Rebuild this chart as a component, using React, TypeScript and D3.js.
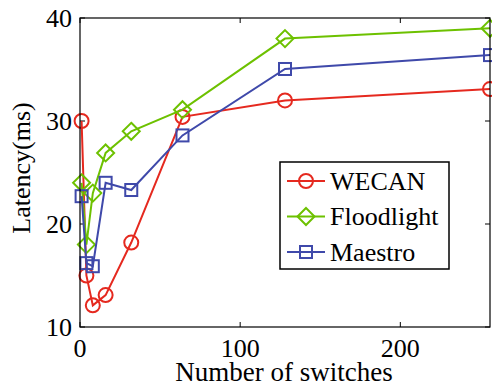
import React from "react";
import * as d3 from "d3";

// number of switches (x) and latency per controller (ms)
const switches = [1, 4, 8, 16, 32, 64, 128, 256];
const wecan = [30, 15, 12.1, 13.1, 18.2, 30.4, 32, 33.1];
const floodlight = [24, 18, 23, 26.9, 29, 31.1, 38, 39];
const maestro = [22.7, 16.2, 15.9, 24, 23.3, 28.6, 35.05, 36.4];

const seriesNames = ["WECAN", "Floodlight", "Maestro"];
const xTicks = [0, 100, 200];
const yTicks = [10, 20, 30, 40];

const colors = ["#e5291f", "#6dc100", "#3f49aa"];
const markers = ["circle", "diamond", "square"];

const width = 492;
const height = 389;
const font = "Liberation Serif";

const left = 80, right = 490, top = 18, bottom = 327;
const x = d3.scaleLinear().domain([0, 256]).range([left, right]);
const y = d3.scaleLinear().domain([10, 40]).range([bottom, top]);
const line = d3.line<number>().x((_, i) => x(switches[i])).y((d) => y(d));

function Marker({ type, cx, cy, color }: { type: string; cx: number; cy: number; color: string }) {
  const common = { fill: "none", stroke: color, strokeWidth: 2 };
  if (type === "circle") return <circle cx={cx} cy={cy} r={7} {...common} />;
  if (type === "diamond") {
    const r = 8.5;
    return <path d={`M${cx},${cy - r}L${cx + r},${cy}L${cx},${cy + r}L${cx - r},${cy}Z`} {...common} />;
  }
  const s = 6;
  return <rect x={cx - s} y={cy - s} width={2 * s} height={2 * s} {...common} />;
}

export default function App() {
  const all = [wecan, floodlight, maestro];
  const tickLen = 5;

  return (
    <svg width={width} height={height} style={{ position: "absolute", left: 0, top: 0 }}>
      {/* ticks, inside on all four sides */}
      {xTicks.map((t) => (
        <g key={"x" + t}>
          <line x1={x(t)} x2={x(t)} y1={bottom} y2={bottom - tickLen} stroke="#000" />
          <line x1={x(t)} x2={x(t)} y1={top} y2={top + tickLen} stroke="#000" />
          <text x={x(t)} y={357} textAnchor="middle" fontFamily={font} fontSize={26}>{t}</text>
        </g>
      ))}
      {yTicks.map((t) => (
        <g key={"y" + t}>
          <line x1={left} x2={left + tickLen} y1={y(t)} y2={y(t)} stroke="#000" />
          <line x1={right} x2={right - tickLen} y1={y(t)} y2={y(t)} stroke="#000" />
          <text x={72} y={y(t) + 9} textAnchor="end" fontFamily={font} fontSize={26}>{t}</text>
        </g>
      ))}

      {all.map((vals, k) => (
        <g key={seriesNames[k]}>
          <path d={line(vals) || ""} fill="none" stroke={colors[k]} strokeWidth={2} />
          {vals.map((v, i) => (
            <Marker key={i} type={markers[k]} cx={x(switches[i])} cy={y(v)} color={colors[k]} />
          ))}
        </g>
      ))}

      <rect x={left} y={top} width={right - left} height={bottom - top} fill="none" stroke="#000" strokeWidth={1.2} />

      {/* legend */}
      <rect x={280} y={162} width={169} height={107} fill="#fff" stroke="#000" strokeWidth={1.5} />
      {seriesNames.map((name, k) => {
        const cy = 181 + k * 35.5;
        return (
          <g key={name}>
            <line x1={287} x2={325} y1={cy} y2={cy} stroke={colors[k]} strokeWidth={2} />
            <Marker type={markers[k]} cx={306} cy={cy} color={colors[k]} />
            <text x={330} y={cy + 8.5} fontFamily={font} fontSize={26}>{name}</text>
          </g>
        );
      })}

      <text x={284} y={381} textAnchor="middle" fontFamily={font} fontSize={27}>Number of switches</text>
      <text transform="translate(30,168) rotate(-90)" textAnchor="middle" fontFamily={font} fontSize={26}>Latency(ms)</text>
    </svg>
  );
}
